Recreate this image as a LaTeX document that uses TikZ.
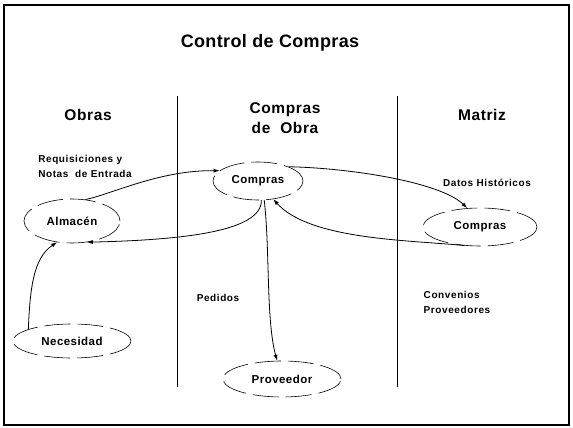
\documentclass[tikz,border=0pt]{standalone}
\usepackage{fontspec}
\setmainfont{Liberation Sans}
\newfontfamily\wideA[LetterSpace=2]{Liberation Sans}
\newfontfamily\wideB[LetterSpace=4]{Liberation Sans}
\newfontfamily\wideC[LetterSpace=6]{Liberation Sans}
\usetikzlibrary{shapes.geometric,arrows.meta}
\begin{document}
\begin{tikzpicture}[x=1pt,y=-1pt,
  oval/.style={ellipse,draw,line width=0.6pt,dash pattern=on 26pt off 7pt,font=\wideB\bfseries\fontsize{11.5}{13}\selectfont,inner sep=0pt},
  lbl/.style={font=\wideC\bfseries\fontsize{10}{15}\selectfont,align=left},
  hdr/.style={font=\wideB\bfseries\fontsize{15.5}{20}\selectfont,align=center},
  flow/.style={line width=0.8pt,-{Latex[length=6pt,width=4pt]}},
  sep/.style={line width=0.6pt}]
\useasboundingbox (0,0) rectangle (573,428);
\draw[line width=1.2pt] (4,5) rectangle (569,425);
\node[font=\wideA\bfseries\fontsize{18}{20}\selectfont] (title) at (270,43) {Control de Compras};
\node[hdr] (h1) at (88,115) {Obras};
\node[hdr] (h2) at (285,118) {Compras\\de~~Obra};
\node[hdr] (h3) at (482,115) {Matriz};
\coordinate (s1a) at (177,96); \coordinate (s1b) at (177,387);
\coordinate (s2a) at (397,96); \coordinate (s2b) at (397,387);
\draw[sep] (s1a) -- (s1b);
\draw[sep] (s2a) -- (s2b);
\node[oval,minimum width=90pt,minimum height=38pt] (cmp) at (258,181) {Compras};
\node[oval,minimum width=96pt,minimum height=44pt] (alm) at (72,221) {Almacén};
\node[oval,minimum width=114pt,minimum height=38pt] (cmr) at (480,227) {Compras};
\node[oval,minimum width=118pt,minimum height=34pt] (nec) at (72,341) {Necesidad};
\node[oval,minimum width=118pt,minimum height=36pt] (prv) at (282,379) {Proveedor};
\node[lbl] (l1) at (85,166) {Requisiciones y\\Notas~ de Entrada};
\node[lbl] (l2) at (487,183) {Datos Históricos};
\node[lbl] (l3) at (218,298) {Pedidos};
\node[lbl] (l4) at (457,302) {Convenios\\Proveedores};
\draw[flow] (alm.58) .. controls (112,194) and (160,170) .. (cmp.165);
\draw[flow] (cmp.25) .. controls (350,168) and (440,182) .. (cmr.124);
\draw[flow] (cmp.-80) .. controls (262,232) and (180,240) .. (alm.-55);
\draw[flow] (cmr.-130) .. controls (410,240) and (310,240) .. (cmp.-50);
\draw[flow] (cmp.-72) .. controls (270,250) and (266,320) .. (prv.105);
\draw[flow] (nec.165) .. controls (30,290) and (33,258) .. (alm.-125);
\end{tikzpicture}
\end{document}
